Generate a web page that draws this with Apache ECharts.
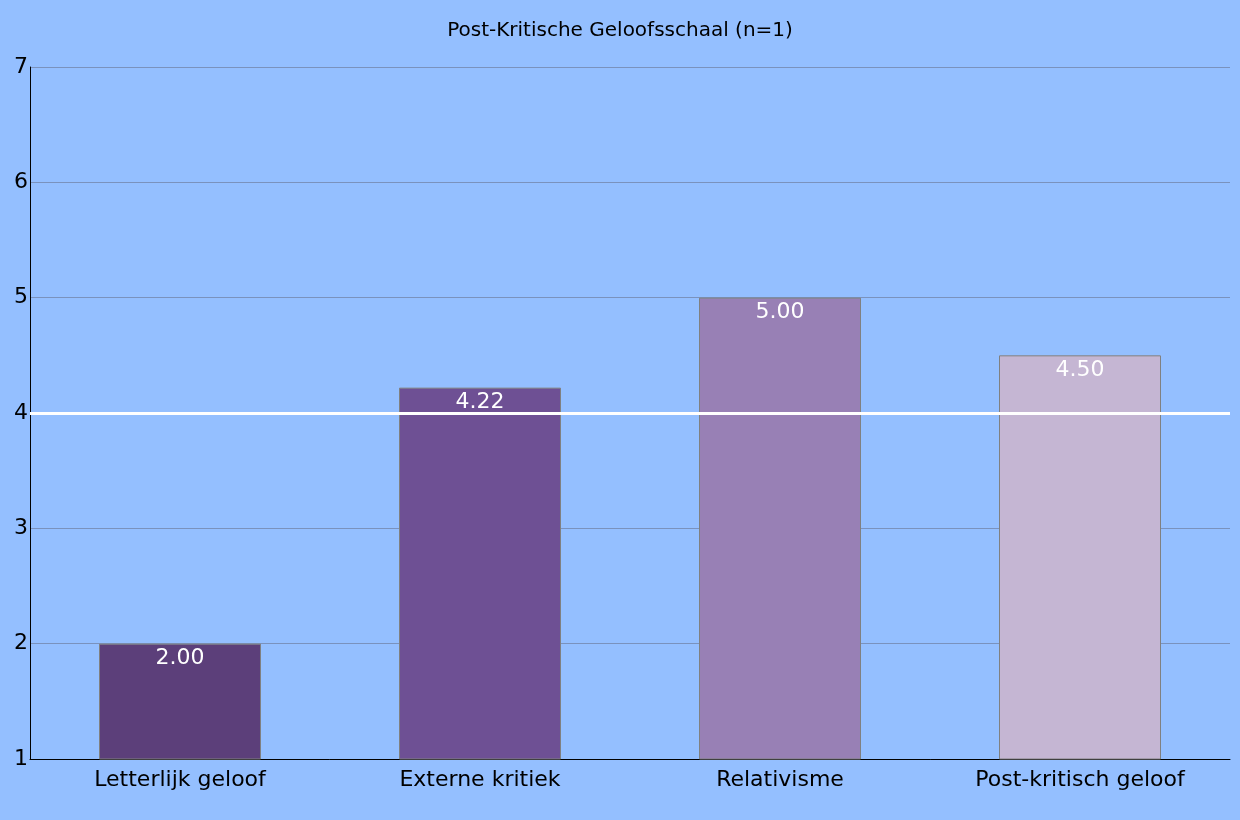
<!DOCTYPE html>
<html><head><meta charset="utf-8">
<script src="https://cdn.jsdelivr.net/npm/echarts@6/dist/echarts.min.js"></script>
<style>html,body{margin:0;padding:0;background:#94bfff;}#chart{width:1240px;height:820px;}</style>
</head><body><div id="chart"></div>
<script>
const categories = ['Letterlijk geloof', 'Externe kritiek', 'Relativisme', 'Post-kritisch geloof'];
const values = [2.00, 4.22, 5.00, 4.50];
const barColors = ['#5c3f7a', '#6e5094', '#9880b5', '#c5b6d3'];
const refValue = 4;

let chart = echarts.init(document.getElementById('chart'));
chart.setOption({
	backgroundColor: '#94bfff',
	textStyle: { fontFamily: 'DejaVu Sans' },
	title: {
		text: 'Post-Kritische Geloofsschaal (n=1)',
		left: 'center', top: 16,
		textStyle: { fontSize: 20, fontWeight: 'normal', color: '#000', fontFamily: 'DejaVu Sans' }
	},
	grid: { left: 30, right: 10, top: 67, bottom: 61 },
	xAxis: {
		type: 'category', data: categories,
		axisLine: { lineStyle: { color: '#000' } },
		axisTick: { show: false },
		axisLabel: { fontSize: 22, color: '#000', margin: 10 }
	},
	yAxis: {
		type: 'value', min: 1, max: 7, interval: 1,
		axisLine: { show: true, lineStyle: { color: '#000' } },
		axisTick: { show: false },
		axisLabel: { fontSize: 22, color: '#000', margin: 2, align: 'right', verticalAlign: 'middle' },
		splitLine: { lineStyle: { color: '#7a92bd' } }
	},
	series: [{
		type: 'bar', barWidth: '54%',
		data: values.map((v, i) => ({ value: v, itemStyle: { color: barColors[i] } })),
		itemStyle: { borderColor: '#808080', borderWidth: 1 },
		label: { show: true, position: 'insideTop', color: '#fff', fontSize: 22, distance: 4,
			formatter: p => p.value.toFixed(2) },
		markLine: {
			silent: true, symbol: 'none', label: { show: false },
			lineStyle: { color: '#fff', width: 3, type: 'solid' },
			data: [{ yAxis: refValue }]
		}
	}]
});
</script></body></html>
